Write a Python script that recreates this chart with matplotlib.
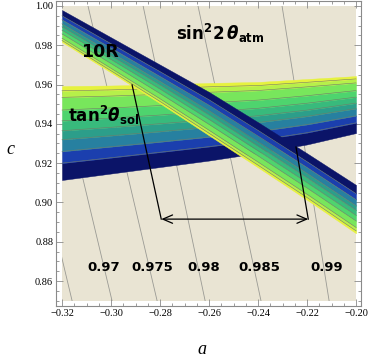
import numpy as np
import matplotlib
matplotlib.use("Agg")
import matplotlib.pyplot as plt
from matplotlib.patches import Rectangle
from matplotlib.ticker import MultipleLocator, FuncFormatter

plt.rcParams['mathtext.fontset'] = 'custom'
plt.rcParams['mathtext.rm'] = 'DejaVu Sans:bold'
plt.rcParams['mathtext.it'] = 'DejaVu Sans:italic:bold'
plt.rcParams['mathtext.bf'] = 'DejaVu Sans:bold'

# --- data ---
a_pts = [-0.32, -0.30, -0.28, -0.26, -0.24, -0.22, -0.20]
# tan^2 theta_sol band (navy at bottom, yellow at top)
sol_top = [0.9592, 0.9595, 0.9600, 0.9608, 0.9613, 0.9628, 0.9643]
sol_bot = [0.9114, 0.9147, 0.9180, 0.9213, 0.9251, 0.9295, 0.9353]
# sin^2 2 theta_atm band (navy at top, yellow at bottom)
atm_top = [0.9979, 0.9840, 0.9701, 0.9562, 0.9408, 0.9250, 0.9089]
atm_bot = [0.9816, 0.9661, 0.9504, 0.9341, 0.9178, 0.9013, 0.8843]

layer_frac = [0.18, 0.125, 0.125, 0.095, 0.105, 0.115, 0.135, 0.07, 0.05]
layer_cols = ['#0b1468', '#1b3fae', '#2780a0', '#2c9e8a', '#38ba7c',
              '#4ed46e', '#78e65c', '#b6f04a', '#e6f23e']

# background contour lines (value, a at c=1.00, a at c=0.85)
gray_levels = [0.965, 0.97, 0.975, 0.98, 0.985, 0.99]
gray_a_top = [-0.3446, -0.3283, -0.3094, -0.2869, -0.2645, -0.2302]
gray_a_bot = [-0.3159, -0.2996, -0.2812, -0.2616, -0.2388, -0.2110]
label_txt = ['0.97', '0.975', '0.98', '0.985', '0.99']
label_a = [-0.3029, -0.2833, -0.2620, -0.2396, -0.2118]
label_c = 0.8671

# arrow annotation
conn_left = ([-0.2914, -0.2795], [0.9598, 0.8915])
conn_right = ([-0.2245, -0.2195], [0.9282, 0.8915])
arrow_c = 0.8915
arrow_a = (-0.2795, -0.2195)

fig = plt.figure(figsize=(3.69, 3.63), dpi=100)
ax = fig.add_axes([0.1518, 0.157, 0.8266, 0.8402])
ax.set_xlim(-0.32245, -0.19796)
ax.set_ylim(0.84728, 1.00249)

bg = Rectangle((-0.32, 0.85), 0.12, 0.15, facecolor='#e9e4d3', edgecolor='none', zorder=0)
ax.add_patch(bg)

for lv, at, ab in zip(gray_levels, gray_a_top, gray_a_bot):
    ln, = ax.plot([at, ab], [1.0, 0.85], color='#9a9a94', lw=0.6, zorder=1)
    ln.set_clip_path(bg)

for t, xa in zip(label_txt, label_a):
    ax.text(xa, label_c, t, ha='center', va='center', fontsize=9.5,
            fontweight='bold', zorder=2)


def draw_band(edge0, edge1, z):
    # edge0 is the navy side, edge1 the yellow side
    e0 = np.array(edge0)
    e1 = np.array(edge1)
    cum = np.concatenate([[0], np.cumsum(layer_frac)])
    cum = cum / cum[-1]
    bounds = [e0 + f * (e1 - e0) for f in cum]
    for k, col in enumerate(layer_cols):
        ax.fill_between(a_pts, bounds[k], bounds[k + 1], facecolor=col,
                        edgecolor=col, lw=0.3, zorder=z)
    for b in bounds[1:-1]:
        ax.plot(a_pts, b, color='#6e7a6c', lw=0.4, zorder=z + 0.1)


draw_band(sol_bot, sol_top, 3)
draw_band(atm_top, atm_bot, 4)

ax.plot(*conn_left, color='black', lw=0.9, zorder=6)
ax.plot(*conn_right, color='black', lw=0.9, zorder=6)
ax.annotate('', xy=(arrow_a[1], arrow_c), xytext=(arrow_a[0], arrow_c),
            arrowprops=dict(arrowstyle='<->,head_length=0.7,head_width=0.3',
                            color='black', lw=0.9, shrinkA=0, shrinkB=0),
            zorder=6)

ax.text(-0.3122, 0.9740, '10R', fontsize=12.5, fontweight='bold', zorder=5)
ax.text(-0.2735, 0.9826, r'$\mathrm{sin}^{2}2\,\theta_{\mathrm{atm}}$',
        fontsize=12, zorder=5)
ax.text(-0.3176, 0.9409, r'$\mathrm{tan}^{2}\theta_{\mathrm{sol}}$',
        fontsize=12, zorder=5)

# frame and ticks
for s in ax.spines.values():
    s.set_color('#8a8a8a')
    s.set_linewidth(0.8)
ax.xaxis.set_major_locator(MultipleLocator(0.02))
ax.xaxis.set_minor_locator(MultipleLocator(0.005))
ax.yaxis.set_major_locator(MultipleLocator(0.02))
ax.yaxis.set_minor_locator(MultipleLocator(0.005))
fmt = FuncFormatter(lambda v, p: ('%.2f' % v).replace('-', '\u2212'))
ax.xaxis.set_major_formatter(fmt)
ax.yaxis.set_major_formatter(fmt)
ax.tick_params(which='both', direction='in', top=True, right=True,
               color='#8a8a8a', width=0.6, labelsize=7.5, pad=2)
ax.tick_params(which='major', length=5)
ax.tick_params(which='minor', length=2.5)
for lab in ax.get_xticklabels() + ax.get_yticklabels():
    lab.set_fontfamily('Liberation Serif')

fig.text(10 / 369, 1 - 150 / 363, 'c', fontsize=13, fontstyle='italic',
         fontfamily='Liberation Serif', ha='center', va='center')
fig.text(202 / 369, 1 - 350 / 363, 'a', fontsize=13, fontstyle='italic',
         fontfamily='Liberation Serif', ha='center', va='center')

fig.savefig('out.png', dpi=100)
